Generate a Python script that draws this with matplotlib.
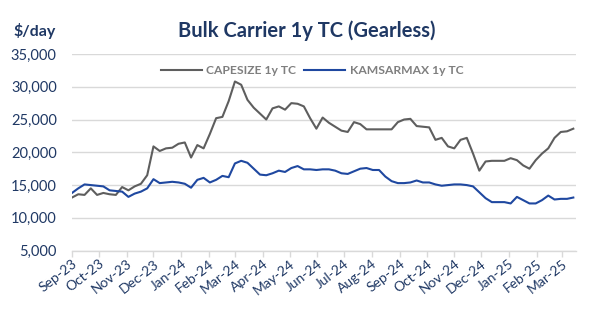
import matplotlib
matplotlib.use("Agg")
import matplotlib.pyplot as plt
import matplotlib.dates as mdates
import matplotlib.ticker as ticker
import pandas as pd

# Weekly 1-year time charter rates, $/day
WEEK_START = "2023-09-01"

CAPESIZE = [
    13100, 13600, 13500, 14500, 13500, 13800, 13600, 13500, 14700, 14200,
    14800, 15200, 16500, 20900, 20200, 20600, 20700, 21300, 21500, 19200,
    21100, 20600, 22800, 25200, 25400, 27800, 30800, 30300, 28000, 26800,
    25900, 25000, 26700, 27000, 26500, 27500, 27400, 27000, 25200, 23600,
    25300, 24500, 23900, 23300, 23100, 24600, 24300, 23500, 23500, 23500,
    23500, 23500, 24600, 25000, 25100, 24000, 23900, 23800, 21900, 22200,
    20900, 20600, 21900, 22200, 19800, 17200, 18600, 18700, 18700, 18700,
    19100, 18800, 18000, 17500, 18800, 19800, 20600, 22200, 23100, 23200,
    23600,
]

KAMSARMAX = [
    13800, 14500, 15100, 15000, 14900, 14800, 14200, 14100, 14000, 13200,
    13700, 14000, 14500, 15900, 15300, 15400, 15500, 15400, 15200, 14600,
    15800, 16100, 15400, 15800, 16400, 16200, 18300, 18700, 18400, 17500,
    16600, 16500, 16800, 17200, 17000, 17600, 17900, 17400, 17400, 17300,
    17400, 17400, 17200, 16800, 16700, 17100, 17500, 17600, 17300, 17300,
    16300, 15600, 15300, 15300, 15400, 15700, 15400, 15400, 15100, 14900,
    15000, 15100, 15100, 15000, 14800, 13900, 13000, 12400, 12400, 12400,
    12200, 13200, 12700, 12200, 12200, 12700, 13400, 12800, 12900, 12900,
    13100,
]

SERIES_LABELS = ["CAPESIZE 1y TC", "KAMSARMAX 1y TC"]
Y_TICKS = [5000, 10000, 15000, 20000, 25000, 30000, 35000]

NAVY = "#1f3864"
GREY_LINE = "#5e5e5e"
BLUE_LINE = "#1f48a0"
GRID = "#d9d9d9"
FONT = ["Lato", "DejaVu Sans"]

dates = pd.date_range(WEEK_START, periods=len(CAPESIZE), freq="7D")

fig = plt.figure(figsize=(6.0, 3.23), dpi=100)
ax = fig.add_axes([0.12, 0.224, 0.84, 0.609])

ax.plot(dates, CAPESIZE, color=GREY_LINE, linewidth=1.5, label=SERIES_LABELS[0],
        solid_joinstyle="round")
ax.plot(dates, KAMSARMAX, color=BLUE_LINE, linewidth=1.5, label=SERIES_LABELS[1],
        solid_joinstyle="round")

ax.set_ylim(Y_TICKS[0], Y_TICKS[-1])
ax.set_yticks(Y_TICKS)
ax.yaxis.set_major_formatter(ticker.FuncFormatter(lambda v, _: f"{int(v):,}"))
ax.set_xlim(dates[0], dates[-1] + pd.Timedelta(days=3))

ax.xaxis.set_major_locator(mdates.MonthLocator())
ax.xaxis.set_major_formatter(mdates.DateFormatter("%b-%y"))

ax.grid(axis="y", color=GRID, linewidth=1.0)
ax.set_axisbelow(True)
for side in ("top", "right", "left"):
    ax.spines[side].set_visible(False)
ax.spines["bottom"].set_color(GRID)
ax.spines["bottom"].set_linewidth(1.0)

ax.tick_params(axis="y", length=0, pad=11, labelsize=10.5, labelcolor=NAVY)
ax.tick_params(axis="x", length=4, color=GRID, width=1.0, labelsize=10,
               labelcolor=NAVY, pad=1)
for lbl in ax.get_yticklabels():
    lbl.set_family(FONT)
for lbl in ax.get_xticklabels():
    lbl.set_family(FONT)
    lbl.set_rotation(38)
    lbl.set_ha("right")
    lbl.set_rotation_mode("anchor")

leg = ax.legend(loc="upper center", bbox_to_anchor=(0.476, 1.0), ncol=2,
                frameon=False, handlelength=3.4, handletextpad=0.35,
                columnspacing=0.7,
                prop={"family": FONT, "weight": "bold", "size": 8.7})
for txt in leg.get_texts():
    txt.set_color("#7f7f7f")

fig.text(0.512, 0.905, "Bulk Carrier 1y TC (Gearless)", ha="center", va="center",
         fontsize=14.5, fontweight="bold", color=NAVY, family=FONT)
fig.text(0.058, 0.905, "$/day", ha="center", va="center",
         fontsize=11.5, fontweight="bold", color=NAVY, family=FONT)

fig.savefig("out.png", dpi=100, facecolor="white")
